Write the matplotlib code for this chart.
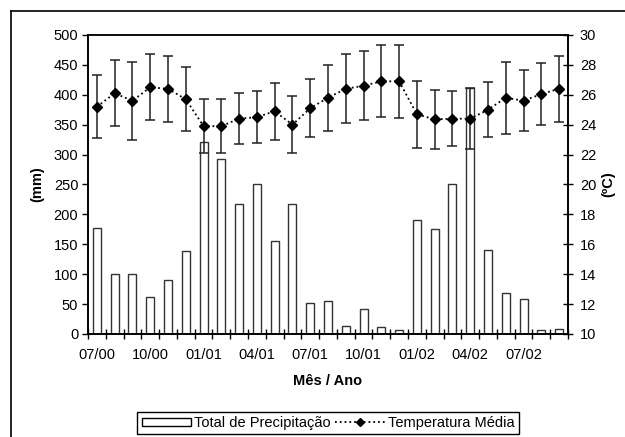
import matplotlib.pyplot as plt
from matplotlib.lines import Line2D
from matplotlib.patches import Patch

plt.rcParams["font.family"] = ["Liberation Sans", "DejaVu Sans"]
FS = 10.5

months = ["07/00", "08/00", "09/00", "10/00", "11/00", "12/00",
          "01/01", "02/01", "03/01", "04/01", "05/01", "06/01",
          "07/01", "08/01", "09/01", "10/01", "11/01", "12/01",
          "01/02", "02/02", "03/02", "04/02", "05/02", "06/02",
          "07/02", "08/02", "09/02"]

precip = [177, 101, 101, 62, 91, 139, 321, 292, 217, 250, 156, 217,
          51, 56, 13, 41, 12, 6, 191, 176, 251, 411, 140, 68,
          58, 7, 9]

temp = [25.2, 26.1, 25.6, 26.5, 26.4, 25.7, 23.9, 23.9, 24.4, 24.5, 24.9, 24.0,
        25.1, 25.8, 26.4, 26.6, 26.9, 26.9, 24.7, 24.35, 24.4, 24.4, 25.0, 25.8,
        25.6, 26.05, 26.4]

temp_err = [2.1, 2.2, 2.6, 2.2, 2.2, 2.15, 1.8, 1.8, 1.7, 1.75, 1.9, 1.9,
            1.95, 2.2, 2.3, 2.3, 2.4, 2.45, 2.25, 2.0, 1.85, 2.05, 1.85, 2.4,
            2.05, 2.1, 2.2]

x = list(range(len(months)))

fig = plt.figure(figsize=(6.25, 4.37), dpi=100)
ax = fig.add_axes([0.1408, 0.2357, 0.768, 0.6843])

ax.bar(x, precip, width=0.45, color="white", edgecolor="#333333", linewidth=1.0, zorder=2)
ax.set_xlim(-0.5, len(months) - 0.5)
ax.set_ylim(0, 500)
ax.set_yticks(range(0, 501, 50))
ax.tick_params(axis="y", direction="out", length=4, width=1, pad=3, labelsize=FS)

ax.set_xticks(x[::3])
ax.set_xticklabels(months[::3])
ax.set_xticks([i - 0.5 for i in range(len(months) + 1)], minor=True)
ax.tick_params(axis="x", which="major", length=0, pad=10, labelsize=FS)
ax.tick_params(axis="x", which="minor", direction="inout", length=7, width=1)

for s in ax.spines.values():
    s.set_linewidth(1.2)
ax.spines["top"].set_color("#444444")

ax.set_ylabel("(mm)", fontsize=FS, fontweight="bold", labelpad=7)
ax.set_xlabel("Mês / Ano", fontsize=FS, fontweight="bold", labelpad=9)

ax2 = ax.twinx()
ax2.errorbar(x, temp, yerr=temp_err, fmt="none", ecolor="#222222",
             elinewidth=1.1, capsize=3.5, capthick=1.1, zorder=3)
ax2.plot(x, temp, linestyle=":", color="black", linewidth=1.3,
         marker="D", markersize=5, markerfacecolor="black", zorder=4)
ax2.set_ylim(10, 30)
ax2.set_yticks(range(10, 31, 2))
ax2.tick_params(axis="y", direction="inout", length=7, width=1, pad=5, labelsize=FS)
ax2.set_ylabel("(ºC)", fontsize=FS, fontweight="bold", rotation=90, labelpad=4)
for s in ax2.spines.values():
    s.set_linewidth(1.2)

# outer frame (cut at the right and bottom)
fig.add_artist(Line2D([11 / 625, 11 / 625], [0, 1 - 11 / 437], color="black", lw=1.2))
fig.add_artist(Line2D([11 / 625, 1], [1 - 11 / 437, 1 - 11 / 437], color="black", lw=1.2))

handles = [Patch(facecolor="white", edgecolor="black", linewidth=1.0),
           Line2D([], [], linestyle=":", color="black", linewidth=1.3,
                  marker="D", markersize=4, markerfacecolor="black")]
leg = fig.legend(handles, ["Total de Precipitação", "Temperatura Média"],
                 loc="center", bbox_to_anchor=(0.525, 0.032), ncol=2,
                 fontsize=FS, frameon=True, fancybox=False, framealpha=1,
                 edgecolor="black", borderpad=0.3, handlelength=3.4,
                 handletextpad=0.2, columnspacing=0.3, handleheight=0.5,
                 borderaxespad=0)
leg.get_frame().set_linewidth(1.0)

fig.savefig("out.png", dpi=100)
